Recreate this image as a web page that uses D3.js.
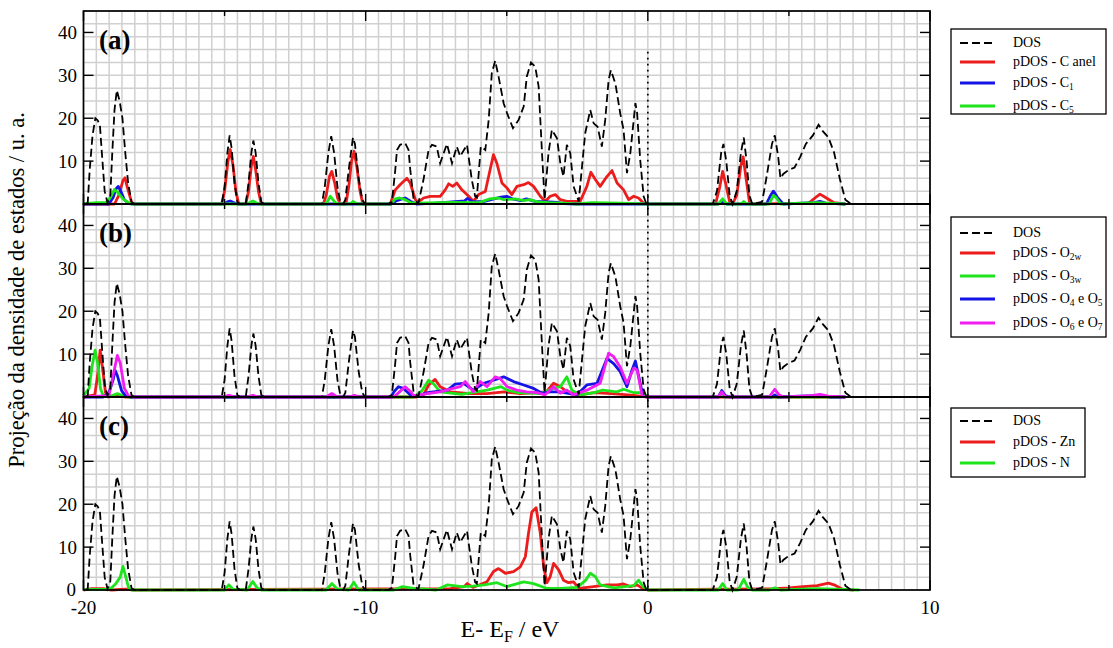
<!DOCTYPE html>
<html><head><meta charset="utf-8">
<script src="https://cdn.jsdelivr.net/npm/d3@7"></script>
<style>
html,body{margin:0;padding:0;background:#fff;}
svg{display:block;}
</style></head>
<body><svg id="chart" width="1113" height="648" font-family="Liberation Serif, Tinos, DejaVu Serif, serif"></svg>
<script>
// ---------------- DATA ----------------
const xTicksMajor = [-20, -10, 0, 10];
const xTicksMinor = [-15, -5, 5];
const yTickValues = [10, 20, 30, 40];
const panelLabels = ["(a)", "(b)", "(c)"];

// Total DOS (same in all panels)  [energy eV, states]
const dos = [[-19.9,0],[-19.85,0.3],[-19.78,8],[-19.68,16],[-19.58,20],[-19.5,19.5],[-19.42,18.5],[-19.35,12],[-19.25,3],[-19.15,0.3],[-19.05,2],[-18.98,12],[-18.9,22],[-18.82,26.5],[-18.72,24],[-18.62,20],[-18.52,12],[-18.42,5],[-18.3,0.5],[-18.2,0],
[-15.1,0],[-15.0,4],[-14.9,12],[-14.82,16],[-14.75,13],[-14.65,5],[-14.55,0.5],[-14.45,0],[-14.25,0],[-14.15,5],[-14.05,12],[-13.98,14.8],[-13.9,12],[-13.8,5],[-13.7,0.5],[-13.6,0],
[-11.55,0],[-11.45,4],[-11.32,12],[-11.22,15.8],[-11.12,12],[-11.0,4],[-10.9,0.5],[-10.8,0],[-10.72,1],[-10.6,8],[-10.45,15.5],[-10.38,14],[-10.25,6],[-10.12,1],[-10.02,0],
[-9.2,0],[-9.07,0.5],[-8.95,8],[-8.89,12.6],[-8.78,13.8],[-8.6,14.2],[-8.48,12.6],[-8.42,8],[-8.3,1],[-8.13,0.2],[-7.95,5.7],[-7.77,12.6],[-7.65,13.8],[-7.48,13.4],[-7.36,9.5],[-7.12,14],[-6.94,9.5],[-6.77,13.4],[-6.65,11.1],[-6.41,13.8],[-6.24,5.7],[-6.12,1.8],[-6.06,1.5],[-5.92,13.4],[-5.76,12.6],[-5.64,19.6],[-5.53,30.5],[-5.41,33.4],[-5.29,29.7],[-5.11,23.5],[-4.99,21.2],[-4.78,17.7],[-4.58,19.6],[-4.40,22.7],[-4.29,29.7],[-4.14,33],[-3.99,32],[-3.87,27.4],[-3.75,11.9],[-3.66,1],[-3.52,11.9],[-3.40,17.3],[-3.22,15.3],[-3.10,9.5],[-2.99,6.4],[-2.87,13.8],[-2.75,11.9],[-2.63,4.1],[-2.45,0.6],[-2.22,16.5],[-2.04,21.9],[-1.92,18.8],[-1.78,18],[-1.63,13.4],[-1.51,19.6],[-1.39,28.9],[-1.31,31.2],[-1.15,28.1],[-0.98,21.2],[-0.86,17.3],[-0.74,7.2],[-0.62,11.9],[-0.44,23.5],[-0.38,21.2],[-0.27,10.3],[-0.15,1.8],[-0.05,0],
[2.3,0],[2.45,3],[2.6,12],[2.68,14],[2.78,10],[2.9,2],[3.0,0],[3.15,3],[3.3,12],[3.4,15.5],[3.5,10],[3.6,2],[3.7,0],[4.05,0.5],[4.2,6],[4.4,14],[4.5,16],[4.62,11],[4.7,6],[4.8,7],[5.0,8],[5.2,8.5],[5.4,11],[5.6,14],[5.85,16],[6.05,18.5],[6.2,17],[6.4,15.5],[6.6,12],[6.8,6],[7.0,1],[7.2,0]];

// Panel (a)
const pdosCanel = [[-20,0],[-18.9,0],[-18.75,2],[-18.6,5.5],[-18.53,6.1],[-18.45,4],[-18.3,0.5],[-18.2,0],[-15.1,0],[-15.0,3],[-14.88,10],[-14.8,12.7],[-14.7,9],[-14.6,3],[-14.5,0],[-14.25,0],[-14.15,3],[-14.05,9],[-13.98,11.1],[-13.9,8],[-13.8,3],[-13.7,0],[-11.5,0],[-11.4,2],[-11.28,6.5],[-11.2,7.6],[-11.1,5],[-11.0,1.5],[-10.9,0],[-10.7,0],[-10.6,4],[-10.5,10],[-10.41,12.3],[-10.32,9],[-10.2,3],[-10.1,0],
[-9.13,0],[-8.95,3.3],[-8.78,4.5],[-8.54,6],[-8.42,4.9],[-8.24,1],[-8.13,0.4],[-7.95,1.4],[-7.71,1.8],[-7.36,1.8],[-7.18,3.3],[-7.06,4.7],[-6.91,4.1],[-6.77,4.9],[-6.59,3.3],[-6.35,1.8],[-6.18,0.6],[-6.0,2.2],[-5.76,2.9],[-5.59,8],[-5.47,11.5],[-5.35,9.5],[-5.17,4.9],[-4.99,3.7],[-4.82,2.2],[-4.64,4.1],[-4.40,4.5],[-4.23,5],[-4.05,4.1],[-3.81,1.8],[-3.64,0.6],[-3.46,1.8],[-3.28,2.2],[-3.10,1],[-2.87,0.6],[-2.63,0.6],[-2.4,0.6],[-2.16,4.1],[-2.02,7.4],[-1.86,5.7],[-1.69,4.1],[-1.45,6.4],[-1.27,7.8],[-1.09,4.9],[-0.86,3.3],[-0.68,1],[-0.5,1.8],[-0.33,1.4],[-0.15,0.2],[0,0],
[2.4,0],[2.55,4],[2.65,7.6],[2.75,5],[2.9,0.5],[3.0,0],[3.15,2],[3.3,9],[3.38,11],[3.48,6],[3.6,0.5],[3.7,0],[5.7,0.2],[6.0,1.8],[6.1,2.3],[6.3,1.5],[6.6,0.3],[7.0,0]];
const pdosC1 = [[-20,0],[-19.1,0],[-18.95,1.5],[-18.85,3.5],[-18.77,4.1],[-18.68,3],[-18.55,1],[-18.4,0.1],[-18.2,0],[-15.0,0],[-14.9,0.5],[-14.8,0.7],[-14.7,0.4],[-14.55,0],[-9.1,0],[-8.9,0.8],[-8.6,1.4],[-8.4,0.6],[-8.2,0],[-7.5,0.2],[-6.5,0.7],[-6.4,1.3],[-6.2,0.5],[-5.8,0.6],[-5.2,1.6],[-5.0,1.8],[-4.8,1.2],[-4.5,0.8],[-4.3,1.2],[-4.0,0.6],[-3.5,0.5],[-3.2,0.4],[-3.0,0.1],[-2.5,0],[2.5,0],[2.65,0.5],[2.8,0],[4.2,0],[4.35,2],[4.45,3],[4.6,1.5],[4.8,0],[5.9,0.3],[6.1,0.6],[6.3,0.2],[7,0]];
const pdosC5 = [[-20,0.1],[-19.5,0.3],[-19.2,0.4],[-19.05,1.5],[-18.9,3.4],[-18.8,2.8],[-18.6,1.2],[-18.45,0.5],[-18.3,0],[-14.2,0],[-14.0,0.7],[-13.8,0],[-11.4,0],[-11.25,1.8],[-11.1,0.5],[-11.0,0],[-10.55,0],[-10.45,0.6],[-10.3,0],[-9.1,0],[-8.95,1.2],[-8.8,1.4],[-8.6,1],[-8.4,0.3],[-8.2,0.2],[-7,0.4],[-6,0.3],[-5.6,1.2],[-5.3,1.4],[-5.1,1.0],[-4.7,1.2],[-4.4,0.8],[-4.2,1.0],[-3.9,0.5],[-3.5,0.3],[-3,0.2],[-2.5,0],[-2,0.3],[-1,0.2],[0,0],[2.5,0],[2.65,1.2],[2.8,0],[3.3,0],[3.4,0.6],[3.5,0],[4.3,0],[4.45,2],[4.55,1.5],[4.7,0],[6,0.3],[7,0]];

// Panel (b)
const pdosO2w = [[-20,0],[-19.6,0.5],[-19.5,5],[-19.41,10.9],[-19.33,7],[-19.22,1],[-19.1,0],[-18.9,0.3],[-18.7,0.2],[-18.5,0],[-8.2,0],[-7.95,0.5],[-7.77,2.8],[-7.54,4.1],[-7.36,2.4],[-7.0,1.2],[-6.3,0.8],[-5.7,0.8],[-5.1,1.2],[-4.5,0.8],[-3.6,1.2],[-3.34,3.2],[-3.1,2.4],[-2.87,1.2],[-2.4,0.5],[-1.9,1.0],[-1.3,0.8],[-0.7,0.5],[0,0],[7,0]];
const pdosO3w = [[-20,0.3],[-19.8,2],[-19.7,7],[-19.59,10.9],[-19.5,8],[-19.4,2],[-19.3,0.3],[-19.0,0.3],[-18.8,0.8],[-18.6,0.3],[-18.4,0],[-8.3,0],[-8.0,1.5],[-7.77,3.9],[-7.6,3.1],[-7.36,1.2],[-6.6,0.6],[-5.7,1.6],[-5.2,2.4],[-4.99,1.6],[-4.6,1.0],[-3.8,0.8],[-3.34,2],[-3.1,2.4],[-2.87,4.7],[-2.69,1.6],[-2.4,0.5],[-1.9,1.0],[-1.6,1.6],[-1.1,1.2],[-0.86,1.8],[-0.5,1.0],[-0.2,1.0],[0,0.1],[2.5,0],[2.6,0.5],[2.7,0],[7,0]];
const pdosO4O5 = [[-20,0],[-19.3,0],[-19.1,1],[-18.95,4],[-18.88,6.2],[-18.8,5],[-18.65,1.5],[-18.5,0.2],[-18.3,0],[-9.1,0],[-9.0,1.2],[-8.84,2.4],[-8.66,2],[-8.42,0.5],[-8.2,0.2],[-7.8,1.0],[-7.47,1.3],[-7.1,1.6],[-6.83,3],[-6.53,3.2],[-6.18,1.6],[-5.82,3.2],[-5.47,3.9],[-5.11,4.7],[-4.76,3.6],[-4.4,2.8],[-4.05,2.0],[-3.75,0.9],[-3.46,1.2],[-3.1,1.2],[-2.87,0.9],[-2.51,0.5],[-2.16,2.8],[-1.8,3.2],[-1.45,9],[-1.21,7.8],[-0.98,5.9],[-0.74,2.4],[-0.56,6.3],[-0.44,8.4],[-0.32,4.7],[-0.17,0.2],[0,0],[2.5,0],[2.62,1.5],[2.75,0.3],[2.9,0],[4.4,0],[4.5,0.5],[4.6,0],[6.0,0.3],[6.5,0],[7,0]];
const pdosO6O7 = [[-20,0],[-19.1,0.3],[-18.95,5],[-18.8,9.7],[-18.7,8],[-18.55,2],[-18.4,0.2],[-18.2,0],[-15.1,0],[-14.85,0.4],[-14.6,0],[-14.2,0],[-14.0,0.4],[-13.8,0],[-11.4,0],[-11.2,0.8],[-11.0,0],[-10.6,0],[-10.4,0.4],[-10.2,0],[-9.0,0],[-8.8,1.2],[-8.6,2.4],[-8.4,1.2],[-8.3,0.3],[-7.8,0.8],[-7.36,1.2],[-6.9,2.0],[-6.65,2.4],[-6.47,3.6],[-6.18,1.2],[-5.94,3.6],[-5.7,2.4],[-5.41,4.7],[-5.23,4.3],[-4.99,2.4],[-4.64,1.6],[-4.29,1.2],[-3.93,1.0],[-3.64,0.5],[-3.34,2.4],[-3.1,0.9],[-2.87,1.6],[-2.63,0.5],[-2.16,1.6],[-1.69,3.2],[-1.39,10.2],[-1.21,9.4],[-0.98,7],[-0.74,3.2],[-0.5,6.7],[-0.38,6.3],[-0.2,0.2],[0,0],[2.5,0],[2.62,1.2],[2.75,0],[4.3,0],[4.5,1.8],[4.65,0.5],[4.8,0],[5.8,0.3],[6.1,0.6],[6.4,0.2],[7,0]];

// Panel (c)
const pdosZn = [[-20,0],[-19.7,0.3],[-19.3,0.3],[-19.0,0],[-18.5,0.2],[-18.2,0],[-7.0,0.3],[-6.5,0.8],[-6.4,1.5],[-6.2,0.6],[-5.7,1.9],[-5.47,4.3],[-5.29,5],[-5.05,3.9],[-4.76,4.3],[-4.52,5.4],[-4.34,7.8],[-4.23,13.2],[-4.11,18.2],[-3.96,19.2],[-3.81,13.2],[-3.69,5.4],[-3.58,1.7],[-3.46,3.1],[-3.34,6.2],[-3.16,4.7],[-2.99,2.3],[-2.81,1.7],[-2.63,1.9],[-2.45,0.4],[-1.92,0.8],[-1.45,1.2],[-1.09,1.2],[-0.86,1.4],[-0.62,0.8],[-0.38,1.2],[-0.15,0.2],[0,0],[2.5,0.2],[3,0.2],[4.5,0.3],[5,0.5],[5.5,0.8],[6,1.0],[6.4,1.6],[6.6,1.2],[6.9,0.2],[7.3,0]];
const pdosN = [[-20,0.1],[-19.2,0.2],[-19.0,0.5],[-18.85,1.5],[-18.7,3],[-18.6,5.5],[-18.5,3],[-18.4,0.5],[-18.3,0],[-15.0,0],[-14.85,1.2],[-14.7,0.2],[-14.2,0],[-14.0,2],[-13.85,0.5],[-13.7,0],[-11.4,0],[-11.2,1.5],[-11.0,0.2],[-10.6,0],[-10.42,1.8],[-10.25,0],[-9.0,0],[-8.7,0.8],[-8.3,0.4],[-7.5,0],[-7.1,1.2],[-6.6,0.8],[-6.2,0.9],[-5.8,1.2],[-5.35,1.7],[-5.0,0.8],[-4.4,1.9],[-4.05,1.5],[-3.6,0.4],[-3.1,0.4],[-2.5,0.6],[-2.2,2.3],[-2.04,3.9],[-1.86,3.1],[-1.69,1.2],[-1.2,0.5],[-0.5,1.0],[-0.33,2.3],[-0.17,0.8],[0,0],[2.5,0],[2.65,1.5],[2.8,0],[3.2,0],[3.4,2.5],[3.55,0.5],[3.7,0],[4.3,0],[4.5,0.5],[4.7,0],[6,0.3],[7.5,0]];

const colors = {red:"#ec1c1c", blue:"#1414e6", green:"#1ee41e", magenta:"#f01ef0"};
const FONT = "'Liberation Serif', Tinos, 'DejaVu Serif', serif";

const panels = [
  {label:panelLabels[0], series:[
    {name:"DOS", data:dos, dash:true},
    {name:[["pDOS - C anel",""]], data:pdosCanel, color:colors.red},
    {name:[["pDOS - C",""],["1","sub"]], data:pdosC1, color:colors.blue},
    {name:[["pDOS - C",""],["5","sub"]], data:pdosC5, color:colors.green}],
   legend:{x:951, y:29, w:155, h:85, rows:[14,33,54,77]}},
  {label:panelLabels[1], series:[
    {name:"DOS", data:dos, dash:true},
    {name:[["pDOS - O",""],["2w","sub"]], data:pdosO2w, color:colors.red},
    {name:[["pDOS - O",""],["3w","sub"]], data:pdosO3w, color:colors.green},
    {name:[["pDOS - O",""],["4","sub"],[" e O",""],["5","sub"]], data:pdosO4O5, color:colors.blue},
    {name:[["pDOS - O",""],["6","sub"],[" e O",""],["7","sub"]], data:pdosO6O7, color:colors.magenta}],
   legend:{x:951, y:217, w:155, h:120, rows:[16,36,59,82,106]}},
  {label:panelLabels[2], series:[
    {name:"DOS", data:dos, dash:true},
    {name:[["pDOS - Zn",""]], data:pdosZn, color:colors.red},
    {name:[["pDOS - N",""]], data:pdosN, color:colors.green}],
   legend:{x:951, y:408, w:134, h:69, rows:[13,34,55]}}
];

// ---------------- LAYOUT ----------------
const svg = d3.select("#chart");
const left = 83.5, right = 930, top0 = 11, ph = 193;
const x = d3.scaleLinear().domain([-20, 10]).range([left, right]);
const gridX = d3.range(0, 67).map(i => -20 + i * 30 / 66);
const gridY = d3.range(0, 46, 3);

panels.forEach((p, i) => {
  const top = top0 + i * ph;
  const y = d3.scaleLinear().domain([0, 45]).range([top + ph, top]);
  p.y = y;
  const g = svg.append("g");
  g.selectAll("line.gx").data(gridX).join("line")
    .attr("x1", d => x(d)).attr("x2", d => x(d)).attr("y1", top).attr("y2", top + ph)
    .attr("stroke", "#d0d0d0").attr("stroke-width", 1.5);
  g.selectAll("line.gy").data(gridY).join("line")
    .attr("x1", left).attr("x2", right).attr("y1", d => y(d)).attr("y2", d => y(d))
    .attr("stroke", "#d0d0d0").attr("stroke-width", 1.5);
});

// dotted Fermi line
svg.append("line").attr("x1", x(0)).attr("x2", x(0))
  .attr("y1", panels[0].y(35.5)).attr("y2", panels[2].y(0))
  .attr("stroke", "#000").attr("stroke-width", 1.7).attr("stroke-dasharray", "1.7,4.3");

function txt(sel) { return sel.append("text").attr("font-family", FONT); }

panels.forEach((p, i) => {
  const top = top0 + i * ph;
  const y = p.y;
  const g = svg.append("g");
  const line = d3.line().x(d => x(d[0])).y(d => y(d[1]));
  p.series.slice(1).forEach(s => {
    g.append("path").datum(s.data).attr("d", line).attr("fill", "none")
      .attr("stroke", s.color).attr("stroke-width", 2.8).attr("stroke-linejoin", "round");
  });
  g.append("path").datum(p.series[0].data).attr("d", line).attr("fill", "none")
    .attr("stroke", "#000").attr("stroke-width", 1.8).attr("stroke-dasharray", "8,4");

  g.append("rect").attr("x", left).attr("y", top).attr("width", right - left).attr("height", ph)
    .attr("fill", "none").attr("stroke", "#000").attr("stroke-width", 1.7);

  yTickValues.forEach(v => {
    g.append("line").attr("x1", left).attr("x2", left + 10).attr("y1", y(v)).attr("y2", y(v)).attr("stroke", "#000").attr("stroke-width", 1.4);
    g.append("line").attr("x1", right - 10).attr("x2", right).attr("y1", y(v)).attr("y2", y(v)).attr("stroke", "#000").attr("stroke-width", 1.4);
    txt(g).attr("x", 77).attr("y", y(v)).attr("dy", "0.35em").attr("text-anchor", "end")
      .attr("font-size", 19).text(v);
  });
  if (i === 2) {
    txt(g).attr("x", 76).attr("y", y(0) - 1).attr("dy", "0.35em").attr("text-anchor", "end")
      .attr("font-size", 19).text(0);
  }
  xTicksMajor.forEach(v => {
    g.append("line").attr("x1", x(v)).attr("x2", x(v)).attr("y1", top).attr("y2", top + 10).attr("stroke", "#000").attr("stroke-width", 1.4);
    g.append("line").attr("x1", x(v)).attr("x2", x(v)).attr("y1", top + ph - 10).attr("y2", top + ph).attr("stroke", "#000").attr("stroke-width", 1.4);
  });
  xTicksMinor.forEach(v => {
    g.append("line").attr("x1", x(v)).attr("x2", x(v)).attr("y1", top).attr("y2", top + 5).attr("stroke", "#000").attr("stroke-width", 1.4);
    g.append("line").attr("x1", x(v)).attr("x2", x(v)).attr("y1", top + ph - 5).attr("y2", top + ph).attr("stroke", "#000").attr("stroke-width", 1.4);
  });
  txt(g).attr("x", 99).attr("y", top + 38).attr("font-size", 27).attr("font-weight", "bold").text(p.label);

  const L = p.legend;
  const lg = svg.append("g").attr("transform", `translate(${L.x},${L.y})`);
  lg.append("rect").attr("width", L.w).attr("height", L.h).attr("fill", "#fff").attr("stroke", "#000").attr("stroke-width", 1.3);
  p.series.forEach((s, k) => {
    const ry = L.rows[k];
    lg.append("line").attr("x1", 9).attr("x2", 44).attr("y1", ry).attr("y2", ry)
      .attr("stroke", s.dash ? "#000" : s.color).attr("stroke-width", s.dash ? 1.8 : 2.8)
      .attr("stroke-dasharray", s.dash ? "8,4" : null);
    const t = txt(lg).attr("x", 62).attr("y", ry + 4).attr("font-size", 14);
    if (s.dash) { t.text(s.name); }
    else {
      s.name.forEach(([tx, kind]) => {
        const ts = t.append("tspan").text(tx);
        if (kind === "sub") ts.attr("font-size", 9.5).attr("baseline-shift", "-30%");
      });
    }
  });
});

xTicksMajor.forEach(v => {
  txt(svg).attr("x", x(v)).attr("y", 614).attr("text-anchor", "middle").attr("font-size", 19).text(v);
});

txt(svg).attr("transform", "translate(24,290) rotate(-90)").attr("text-anchor", "middle")
  .attr("font-size", 22.5).text("Projeção da densidade de estados / u. a.");
const xt = txt(svg).attr("x", 510).attr("y", 637).attr("text-anchor", "middle").attr("font-size", 24);
xt.append("tspan").text("E- E");
xt.append("tspan").text("F").attr("font-size", 16).attr("baseline-shift", "-30%");
xt.append("tspan").text(" / eV");
</script></body></html>
